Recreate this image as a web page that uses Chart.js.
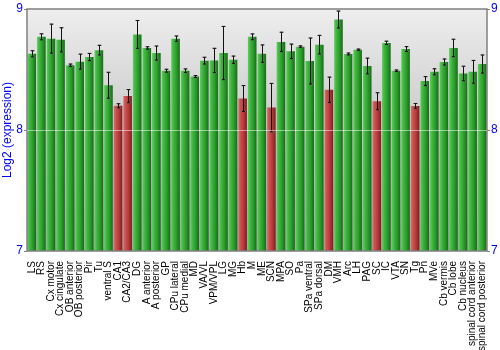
<!DOCTYPE html>
<html>
<head>
<meta charset="utf-8">
<script src="https://cdn.jsdelivr.net/npm/chart.js@4"></script>
<style>
  html, body { margin: 0; padding: 0; background: #ffffff; }
  #wrap { width: 500px; height: 350px; }
</style>
</head>
<body>
<div id="wrap"><canvas id="chart" width="500" height="350"></canvas></div>
<script>
const regions = [
  "LS", "RS", "Cx motor", "Cx cingulate", "OB anterior", "OB posterior", "Pir", "Tu",
  "ventral S", "CA1", "CA2/CA3", "DG", "A anterior", "A posterior", "GP", "CPu lateral",
  "CPu medial", "MD", "VA/VL", "VPM/VPL", "LG", "MG", "Hb", "M", "ME", "SCN", "MPA",
  "SO", "Pa", "SPa ventral", "SPa dorsal", "DM", "VMH", "Arc", "LH", "PAG", "SC", "IC",
  "VTA", "SN", "Tg", "Pn", "MVe", "Cb vermis", "Cb lobe", "Cb nucleus",
  "spinal cord anterior", "spinal cord posterior",
];

const expression = [
  8.63, 8.77, 8.755, 8.745, 8.535, 8.565, 8.603, 8.66,
  8.37, 8.2, 8.28, 8.79, 8.678, 8.636, 8.49, 8.755,
  8.49, 8.442, 8.573, 8.575, 8.636, 8.581, 8.26, 8.77, 8.631, 8.185, 8.728,
  8.65, 8.689, 8.57, 8.705, 8.332, 8.913, 8.628, 8.664, 8.529, 8.238, 8.72,
  8.49, 8.669, 8.199, 8.404, 8.481, 8.562, 8.678, 8.467,
  8.481, 8.545,
];

const errors = [
  0.025, 0.025, 0.12, 0.1, 0.01, 0.062, 0.03, 0.04,
  0.107, 0.017, 0.054, 0.115, 0.01, 0.058, 0.012, 0.022,
  0.015, 0.008, 0.028, 0.1, 0.22, 0.03, 0.107, 0.024, 0.072, 0.2, 0.08,
  0.06, 0.006, 0.19, 0.077, 0.105, 0.07, 0.008, 0.005, 0.065, 0.07, 0.014,
  0.006, 0.02, 0.02, 0.037, 0.025, 0.025, 0.072, 0.06,
  0.094, 0.075,
];

// regions drawn in red
const lowRegions = ["CA1", "CA2/CA3", "Hb", "SCN", "DM", "SC", "Tg"];

const yTicks = [7, 8, 9];

const BAR_PCT = 0.9;

function barGradient(c) {
  const chart = c.chart;
  const xs = chart.scales.x;
  const red = lowRegions.includes(regions[c.dataIndex]);
  if (!xs || c.dataIndex === undefined || !chart.chartArea) {
    return red ? "#b83a3a" : "#2fa02f";
  }
  const cx = xs.getPixelForValue(c.dataIndex);
  const w = (xs.width / regions.length) * BAR_PCT;
  const g = chart.ctx.createLinearGradient(cx - w / 2, 0, cx + w / 2, 0);
  if (red) {
    g.addColorStop(0, "#d87070");
    g.addColorStop(0.25, "#cc5050");
    g.addColorStop(0.6, "#b43a3a");
    g.addColorStop(1, "#7c1e1e");
  } else {
    g.addColorStop(0, "#62cc62");
    g.addColorStop(0.25, "#40b840");
    g.addColorStop(0.6, "#2c9c2c");
    g.addColorStop(1, "#186a18");
  }
  return g;
}

// grey gradient behind the plot
const plotBackground = {
  id: "plotBackground",
  beforeDatasetsDraw(chart) {
    const { ctx, chartArea: a } = chart;
    const g = ctx.createLinearGradient(0, a.top, 0, a.bottom);
    g.addColorStop(0, "#eeeeee");
    g.addColorStop(1, "#a4a4a4");
    ctx.save();
    ctx.fillStyle = g;
    ctx.fillRect(a.left, a.top, a.right - a.left, a.bottom - a.top);
    ctx.restore();
  },
};

// error bars + frame
const errorBars = {
  id: "errorBars",
  afterDatasetsDraw(chart) {
    const { ctx, chartArea: a } = chart;
    const xs = chart.scales.x;
    const ys = chart.scales.y;
    ctx.save();
    expression.forEach((v, i) => {
      const x = Math.round(xs.getPixelForValue(i)) + 0.5;
      const yTop = ys.getPixelForValue(v + errors[i]);
      const yBot = ys.getPixelForValue(v - errors[i]);
      ctx.strokeStyle = "rgba(120,120,120,0.8)";
      ctx.lineWidth = 1;
      ctx.beginPath();
      ctx.moveTo(x - 2.5, yTop);
      ctx.lineTo(x + 2.5, yTop);
      ctx.moveTo(x - 2.5, yBot);
      ctx.lineTo(x + 2.5, yBot);
      ctx.stroke();
      ctx.strokeStyle = "#111111";
      ctx.beginPath();
      ctx.moveTo(x, yTop);
      ctx.lineTo(x, yBot);
      ctx.moveTo(x - 1.5, yTop);
      ctx.lineTo(x + 1.5, yTop);
      ctx.moveTo(x - 1.5, yBot);
      ctx.lineTo(x + 1.5, yBot);
      ctx.stroke();
    });
    ctx.strokeStyle = "#808080";
    ctx.lineWidth = 1.5;
    ctx.strokeRect(a.left, a.top, a.right - a.left, a.bottom - a.top);
    ctx.restore();
  },
};

const yScaleBase = {
  min: 7,
  max: 9,
  afterBuildTicks: (scale) => {
    scale.ticks = yTicks.map((v) => ({ value: v }));
  },
  grid: {
    z: 1,
    color: (c) => (c.tick && c.tick.value === 8 ? "rgba(255,255,255,0.5)" : "rgba(0,0,0,0)"),
    tickColor: "#808080",
    tickLength: 3,
    lineWidth: 1,
  },
  border: { display: false },
  ticks: {
    color: "#0000ff",
    padding: 1,
    font: { family: "'Liberation Sans', Arial, sans-serif", size: 12 },
  },
};

new Chart(document.getElementById("chart"), {
  type: "bar",
  data: {
    labels: regions,
    datasets: [
      {
        data: expression,
        backgroundColor: barGradient,
        borderWidth: 0,
        categoryPercentage: 1,
        barPercentage: BAR_PCT,
      },
    ],
  },
  options: {
    responsive: false,
    animation: false,
    devicePixelRatio: 1,
    layout: { padding: { top: 9, left: 0, right: 0, bottom: 0 } },
    plugins: {
      legend: { display: false },
      tooltip: { enabled: false },
    },
    scales: {
      x: {
        grid: { display: false },
        border: { display: false },
        ticks: {
          autoSkip: false,
          minRotation: 90,
          maxRotation: 90,
          padding: 2,
          color: "#000000",
          font: { family: "'Liberation Sans', Arial, sans-serif", size: 10 },
        },
        afterFit: (scale) => {
          scale.height = 99;
        },
      },
      y: {
        ...yScaleBase,
        position: "left",
        title: {
          display: true,
          text: "Log2 (expression)",
          color: "#0000ff",
          padding: 0,
          font: { family: "'Liberation Sans', Arial, sans-serif", size: 12 },
        },
        afterFit: (scale) => {
          scale.width = 27;
        },
      },
      y2: {
        ...yScaleBase,
        position: "right",
        grid: { ...yScaleBase.grid, color: "rgba(0,0,0,0)" },
        afterFit: (scale) => {
          scale.width = 13;
        },
      },
    },
  },
  plugins: [plotBackground, errorBars],
});
</script>
</body>
</html>
